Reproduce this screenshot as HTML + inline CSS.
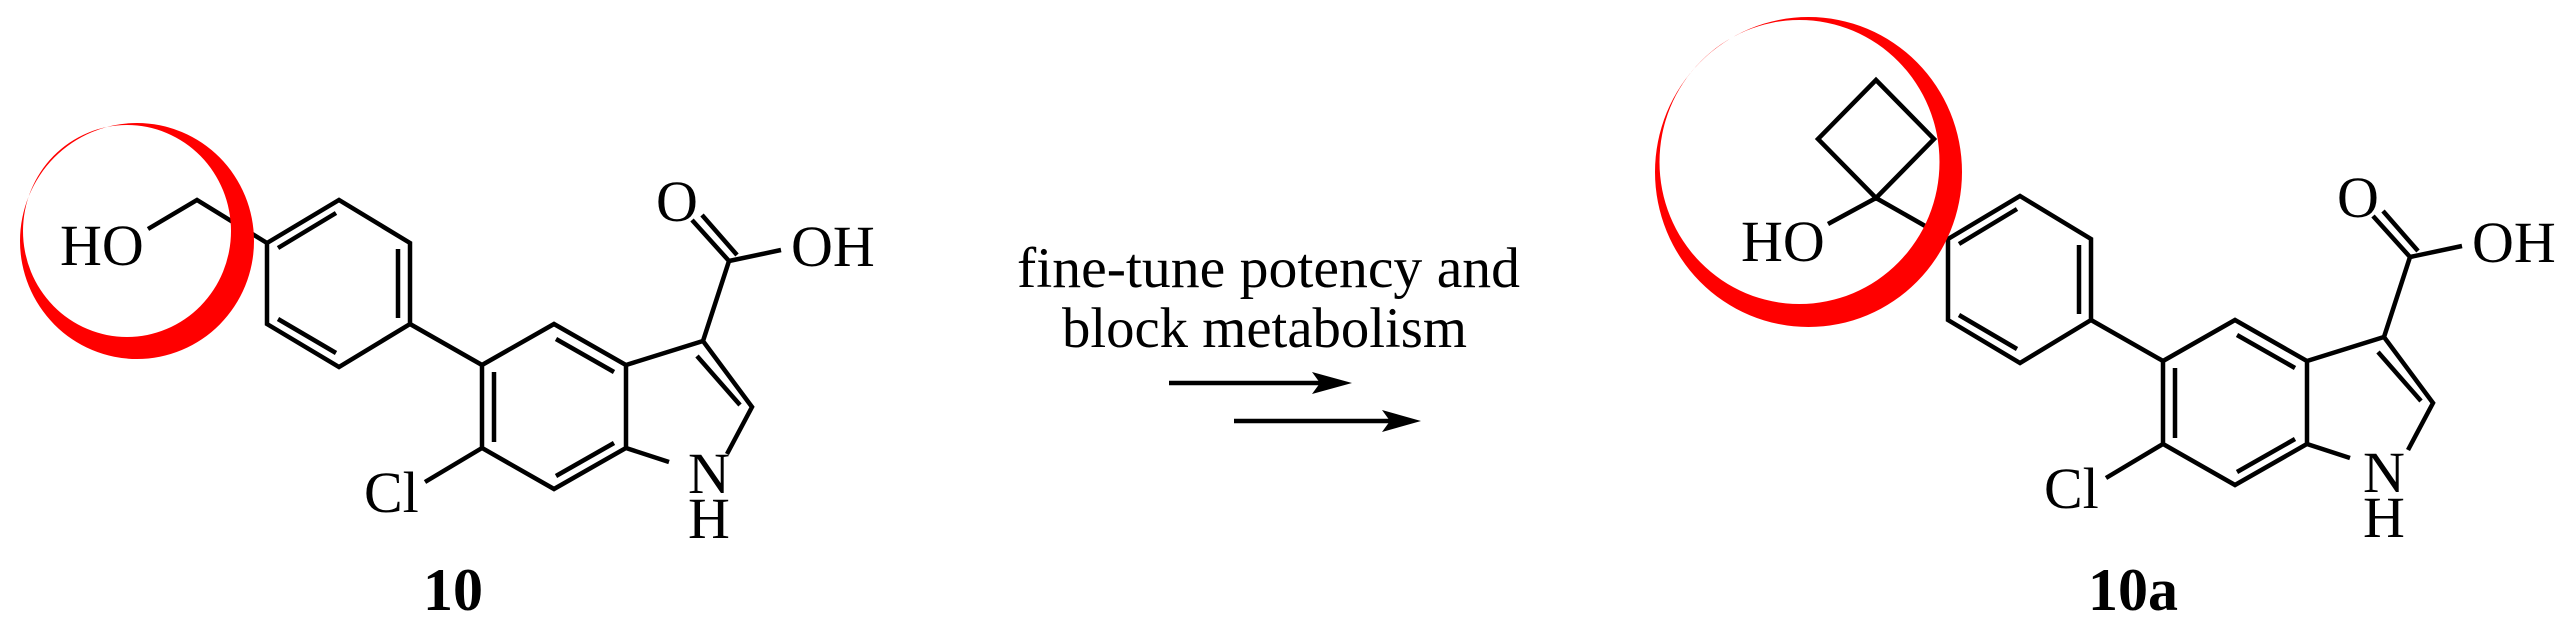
<!DOCTYPE html>
<html><head><meta charset="utf-8"><style>
html,body{margin:0;padding:0;background:#fff;}
svg{display:block;}
text{font-family:"Liberation Serif","DejaVu Serif",serif;fill:#000;}
</style></head><body>
<svg width="2570" height="640" viewBox="0 0 2570 640" xmlns="http://www.w3.org/2000/svg">
<defs></defs>
<g id="core" stroke="#000" stroke-width="4.5" fill="none" stroke-linejoin="miter" stroke-linecap="butt">
  <!-- phenyl -->
  <polygon points="267,243 339,200 410,243 410,324 339,367 267,324"/>
  <line x1="278" y1="248" x2="336" y2="213"/>
  <line x1="398" y1="249" x2="398" y2="318"/>
  <line x1="278" y1="319" x2="336" y2="353"/>
  <!-- biaryl bond -->
  <line x1="410" y1="324" x2="482" y2="365"/>
  <!-- indole benzene -->
  <polygon points="482,365 554,324 626,365 626,448 554,489 482,448"/>
  <line x1="556" y1="339" x2="614" y2="372"/>
  <line x1="494" y1="372" x2="494" y2="442"/>
  <line x1="556" y1="476" x2="614" y2="443"/>
  <!-- pyrrole -->
  <polyline points="626,365 703,341 752,407 727,454"/>
  <line x1="697" y1="356" x2="740" y2="405"/>
  <line x1="626" y1="448" x2="669" y2="462"/>
  <!-- COOH -->
  <line x1="703" y1="341" x2="729" y2="261"/>
  <line x1="729" y1="261" x2="692" y2="220"/>
  <line x1="737" y1="255" x2="702" y2="215"/>
  <line x1="729" y1="261" x2="781" y2="250"/>
  <!-- Cl -->
  <line x1="482" y1="448" x2="425" y2="482"/>
</g>
<g id="coretext" font-size="58">
  <text x="656" y="221">O</text>
  <text x="791" y="266">OH</text>
  <text x="364" y="512">Cl</text>
  <text x="688" y="493">N</text>
  <text x="688" y="538">H</text>
  <text x="423" y="610" font-weight="bold" font-size="60">10</text>
</g>
<!-- molecule 10 substituent -->
<g stroke="#000" stroke-width="4.5" fill="none">
  <polyline points="148,229 197,200 267,243"/>
</g>
<text x="60" y="265" font-size="58">HO</text>

<!-- molecule 10a -->
<g transform="translate(1681,-4)" stroke="#000" stroke-width="4.5" fill="none">
  <polygon points="267,243 339,200 410,243 410,324 339,367 267,324"/>
  <line x1="278" y1="248" x2="336" y2="213"/>
  <line x1="398" y1="249" x2="398" y2="318"/>
  <line x1="278" y1="319" x2="336" y2="353"/>
  <line x1="410" y1="324" x2="482" y2="365"/>
  <polygon points="482,365 554,324 626,365 626,448 554,489 482,448"/>
  <line x1="556" y1="339" x2="614" y2="372"/>
  <line x1="494" y1="372" x2="494" y2="442"/>
  <line x1="556" y1="476" x2="614" y2="443"/>
  <polyline points="626,365 703,341 752,407 727,454"/>
  <line x1="697" y1="356" x2="740" y2="405"/>
  <line x1="626" y1="448" x2="669" y2="462"/>
  <line x1="703" y1="341" x2="729" y2="261"/>
  <line x1="729" y1="261" x2="692" y2="220"/>
  <line x1="737" y1="255" x2="702" y2="215"/>
  <line x1="729" y1="261" x2="781" y2="250"/>
  <line x1="482" y1="448" x2="425" y2="482"/>
</g>
<g transform="translate(1681,-4)" font-size="58">
  <text x="656" y="221">O</text>
  <text x="791" y="266">OH</text>
  <text x="363" y="512">Cl</text>
  <text x="682" y="496">N</text>
  <text x="682" y="541">H</text>
</g>
<text x="2088" y="610" font-weight="bold" font-size="60">10a</text>
<g stroke="#000" stroke-width="4.5" fill="none">
  <polygon points="1876,80 1934,139 1876,198 1818,139"/>
  <line x1="1876" y1="198" x2="1828" y2="224"/>
  <line x1="1876" y1="198" x2="1948" y2="239"/>
</g>
<text x="1741" y="261" font-size="58">HO</text>

<!-- red crescents -->
<path fill="#ff0000" fill-rule="evenodd" d="M20,241 a117,118 0 1,0 234,0 a117,118 0 1,0 -234,0 Z M23,231 a104,106 0 1,0 208,0 a104,106 0 1,0 -208,0 Z"/>
<path fill="#ff0000" fill-rule="evenodd" d="M1655,172 a153.5,155 0 1,0 307,0 a153.5,155 0 1,0 -307,0 Z M1659.5,162 a140,142 0 1,0 280,0 a140,142 0 1,0 -280,0 Z"/>

<!-- reaction conditions -->
<text x="1017" y="287" font-size="57" textLength="503" lengthAdjust="spacingAndGlyphs">fine-tune potency and</text>
<text x="1062" y="347" font-size="57" textLength="405" lengthAdjust="spacingAndGlyphs">block metabolism</text>
<line x1="1169" y1="383" x2="1320" y2="383" stroke="#000" stroke-width="4.5"/>
<polygon points="1312,372 1352,383 1312,394 1320,383" fill="#000"/>
<line x1="1234" y1="421" x2="1390" y2="421" stroke="#000" stroke-width="4.5"/>
<polygon points="1382,410 1421,421 1382,432 1390,421" fill="#000"/>
</svg>
</body></html>
